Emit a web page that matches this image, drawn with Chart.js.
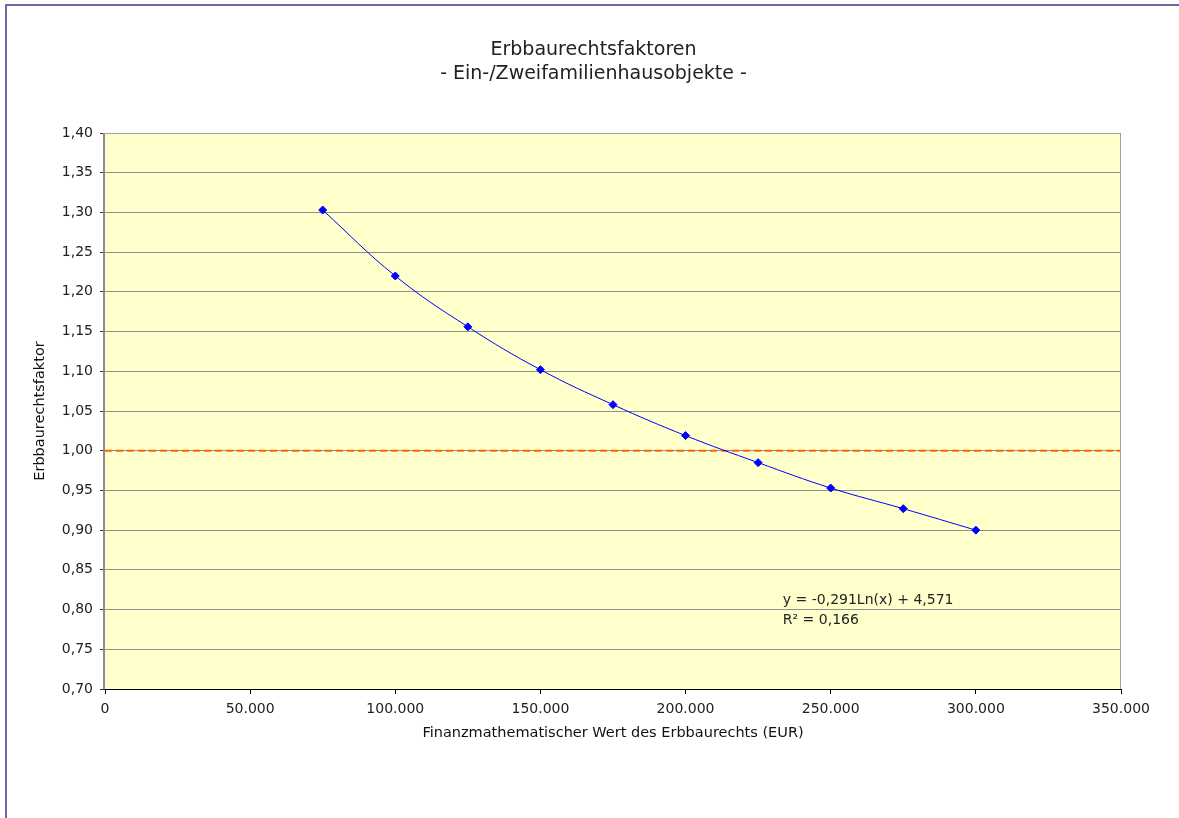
<!DOCTYPE html>
<html>
<head>
<meta charset="utf-8">
<script src="https://cdn.jsdelivr.net/npm/chart.js@4"></script>
<style>
  html, body { margin:0; padding:0; background:#fff; overflow:hidden; }
  #wrap { position:absolute; left:0; top:0; width:1179px; height:818px; }
  #frame { position:absolute; left:5px; top:4px; width:1300px; height:1000px;
           border-left:2px solid #6b6ba6; border-top:2px solid #6b6ba6; }
</style>
</head>
<body>
<div id="wrap">
  <div id="frame"></div>
  <canvas id="c" width="1179" height="818"></canvas>
</div>
<script>
const werte   = [75000, 100000, 125000, 150000, 175000, 200000, 225000, 250000, 275000, 300000];
const faktor  = [1.303, 1.220, 1.156, 1.102, 1.058, 1.019, 0.985, 0.953, 0.927, 0.900];
const refX    = [0, 350000];
const refY    = [1.00, 1.00];
const titel   = ['Erbbaurechtsfaktoren', '- Ein-/Zweifamilienhausobjekte -'];
const formel  = ['y = -0,291Ln(x) + 4,571', 'R² = 0,166'];
const formelX = 233500;
const formelY = [0.812, 0.786];

const FONT = '"DejaVu Sans", Verdana, sans-serif';
const deNum = (v, d) => {
  const s = v.toFixed(d).split('.');
  s[0] = s[0].replace(/\B(?=(\d{3})+(?!\d))/g, '.');
  return s.join(',');
};

// plot area background + border, title and trendline label
const plotArea = {
  id: 'plotArea',
  beforeDraw(chart) {
    const { ctx, chartArea: a } = chart;
    ctx.save();
    ctx.fillStyle = '#ffffcc';
    ctx.fillRect(a.left, a.top, a.right - a.left, a.bottom - a.top);
    ctx.restore();
  },
  afterDatasetsDraw(chart) {
    const { ctx, chartArea: a } = chart;
    ctx.save();
    ctx.strokeStyle = '#a0a0a0';
    ctx.lineWidth = 1;
    ctx.beginPath();
    ctx.moveTo(a.right - 0.5, a.bottom);
    ctx.lineTo(a.right - 0.5, a.top + 0.5);
    ctx.lineTo(a.left, a.top + 0.5);
    ctx.stroke();
    ctx.strokeStyle = '#8c8c8c';
    ctx.lineWidth = 2;
    ctx.beginPath();
    ctx.moveTo(a.left - 1, a.bottom);
    ctx.lineTo(a.left - 1, a.top);
    ctx.stroke();
    ctx.strokeStyle = '#000';
    ctx.lineWidth = 1;
    ctx.beginPath();
    ctx.moveTo(a.left, a.bottom + 0.5);
    ctx.lineTo(a.right, a.bottom + 0.5);
    ctx.stroke();
    // trendline label
    const x = chart.scales.x.getPixelForValue(formelX);
    ctx.fillStyle = '#222';
    ctx.font = '14px ' + FONT;
    ctx.textBaseline = 'middle';
    formel.forEach((t, i) => ctx.fillText(t, x, chart.scales.y.getPixelForValue(formelY[i])));
    // title
    ctx.font = '19px ' + FONT;
    ctx.textAlign = 'center';
    titel.forEach((t, i) => ctx.fillText(t, chart.width / 2 + 4, 50 + i * 24));
    ctx.restore();
  }
};

new Chart(document.getElementById('c'), {
  type: 'scatter',
  data: {
    datasets: [
      { label: 'Erbbaurechtsfaktor', data: werte.map((x, i) => ({ x, y: faktor[i] })),
        showLine: true, borderColor: '#0000ff', borderWidth: 1, tension: 0.4,
        pointStyle: 'rectRot', pointRadius: 4, pointBackgroundColor: '#0000ff', pointBorderColor: '#0000ff', pointBorderWidth: 1 },
      { label: '1,00', data: refX.map((x, i) => ({ x, y: refY[i] })),
        showLine: true, borderColor: '#ff6600', borderWidth: 2, borderDash: [7, 4], pointRadius: 0 }
    ]
  },
  options: {
    responsive: false, animation: false,
    layout: { padding: { left: 0, right: 58, top: 133, bottom: 0 } },
    plugins: {
      legend: { display: false },
      tooltip: { enabled: false },
      title: { display: false }
    },
    scales: {
      x: { type: 'linear', min: 0, max: 350000,
           afterFit: (s) => { s.height = 129; },
           ticks: { stepSize: 50000, color: '#222', padding: 7, maxRotation: 0,
                    font: { family: FONT, size: 14 }, callback: (v) => deNum(v, 0) },
           grid: { display: true, drawOnChartArea: false, drawTicks: true, tickLength: 5, color: '#000' },
           border: { display: false },
           title: { display: true, text: 'Finanzmathematischer Wert des Erbbaurechts (EUR)', color: '#111',
                    font: { family: FONT, size: 14.5 }, padding: { top: 0, bottom: 76 } } },
      y: { min: 0.7, max: 1.4,
           afterFit: (s) => { s.width = 105; },
           ticks: { stepSize: 0.05, color: '#222', padding: 7,
                    font: { family: FONT, size: 14 }, callback: (v) => deNum(v, 2) },
           grid: { color: '#8f8f8f', tickLength: 5, tickColor: '#333' },
           border: { display: false },
           title: { display: true, text: 'Erbbaurechtsfaktor', color: '#111',
                    font: { family: FONT, size: 14.5 }, padding: { top: 32, bottom: 0 } } }
    }
  },
  plugins: [plotArea]
});
</script>
</body>
</html>
